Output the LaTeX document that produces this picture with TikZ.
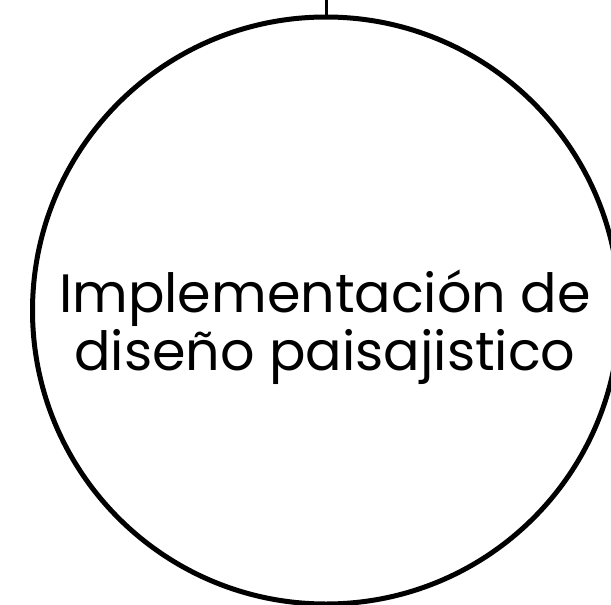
\documentclass[tikz,border=0pt]{standalone}
\usepackage{fontspec}
\setmainfont{Poppins}
\begin{document}
\begin{tikzpicture}[x=1pt,y=-1pt,
  ring/.style={circle,draw=black,line width=5pt,minimum size=587pt,inner sep=0pt},
  lbl/.style={align=center,font=\fontsize{54}{58}\selectfont,inner sep=0pt}]
\useasboundingbox (0,0) rectangle (611,605);
\node[ring] (c) at (326,310.5) {};
\coordinate (top) at (326,0);
\node[lbl,anchor=base] (t) at (325,370) {Implementación de\\diseño paisajistico};
\draw[line width=3pt] (top) -- (c.north);
\end{tikzpicture}
\end{document}
